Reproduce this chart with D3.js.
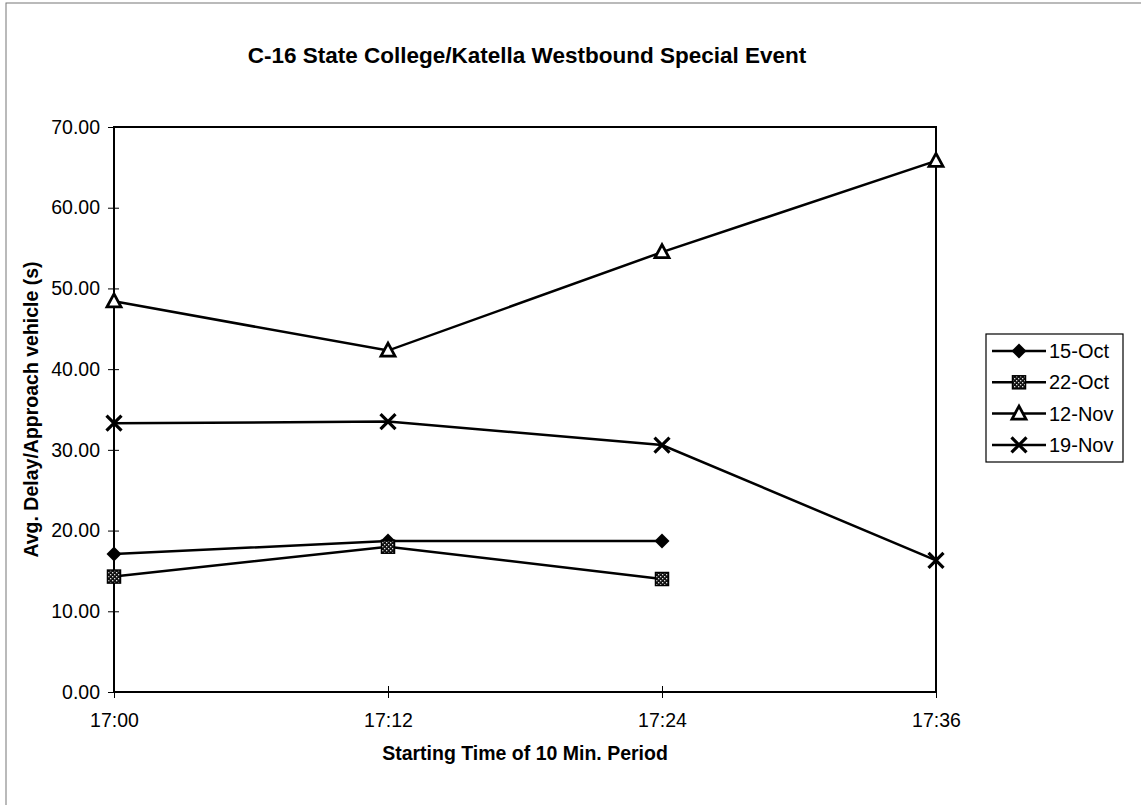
<!DOCTYPE html>
<html><head><meta charset="utf-8">
<script src="https://cdn.jsdelivr.net/npm/d3@7"></script>
<style>body{margin:0;background:#fff}svg{display:block}text{font-family:"Liberation Sans",Arial,sans-serif}</style>
</head><body><svg id="c" width="1141" height="805"></svg>
<script>
const times = ["17:00","17:12","17:24","17:36"];
const s15Oct = [17.1, 18.7, 18.7];
const s22Oct = [14.3, 18.0, 14.0];
const s12Nov = [48.4, 42.3, 54.5, 65.8];
const s19Nov = [33.3, 33.5, 30.6, 16.3];
const seriesNames = ["15-Oct","22-Oct","12-Nov","19-Nov"];
const yTicks = [0,10,20,30,40,50,60,70];
const titleText = "C-16 State College/Katella Westbound Special Event";
const xTitle = "Starting Time of 10 Min. Period";
const yTitle = "Avg. Delay/Approach vehicle (s)";

const series = [
  {name: seriesNames[0], values: s15Oct, marker: "diamond"},
  {name: seriesNames[1], values: s22Oct, marker: "square"},
  {name: seriesNames[2], values: s12Nov, marker: "triangle"},
  {name: seriesNames[3], values: s19Nov, marker: "x"}
];

const svg = d3.select("#c");
const L = 114, R = 936, T = 127, B = 692;
const x = d3.scalePoint().domain(times).range([L, R]);
const y = d3.scaleLinear().domain([0, 70]).range([B, T]);

const defs = svg.append("defs");
const pat = defs.append("pattern").attr("id","chk").attr("width",4).attr("height",4).attr("patternUnits","userSpaceOnUse");
pat.append("rect").attr("width",4).attr("height",4).attr("fill","#111");
pat.append("rect").attr("x",0).attr("y",0).attr("width",1.3).attr("height",1.3).attr("fill","#ddd");
pat.append("rect").attr("x",2).attr("y",2).attr("width",1.3).attr("height",1.3).attr("fill","#ddd");

// outer frame
svg.append("rect").attr("x",6).attr("y",3).attr("width",1200).attr("height",900)
  .attr("fill","none").attr("stroke","#777").attr("stroke-width",1);

// title
svg.append("text").attr("x", 527).attr("y", 63).attr("text-anchor","middle")
  .attr("font-size", 22.5).attr("font-weight","bold").text(titleText);

// plot frame
svg.append("rect").attr("x",L).attr("y",T).attr("width",R-L).attr("height",B-T)
  .attr("fill","none").attr("stroke","#000").attr("stroke-width",2);

// y axis
const yAxis = d3.axisLeft(y).tickValues(yTicks).tickFormat(d3.format(".2f")).tickSize(6).tickPadding(8);
const gy = svg.append("g").attr("transform",`translate(${L},0)`).call(yAxis);
gy.select(".domain").remove();
gy.selectAll(".tick line").attr("x1",-6).attr("x2",5).attr("stroke","#000").attr("stroke-width",1);
gy.selectAll(".tick text").attr("font-size",19.5).attr("font-family","Liberation Sans, Arial, sans-serif").attr("fill","#000");

// x axis
const xAxis = d3.axisBottom(x).tickSize(6).tickPadding(15);
const gx = svg.append("g").attr("transform",`translate(0,${B})`).call(xAxis);
gx.select(".domain").remove();
gx.selectAll(".tick line").attr("y1",-6).attr("y2",6).attr("stroke","#000").attr("stroke-width",1);
gx.selectAll(".tick text").attr("font-size",19.5).attr("font-family","Liberation Sans, Arial, sans-serif").attr("fill","#000");

// axis titles
svg.append("text").attr("x", 525).attr("y", 760).attr("text-anchor","middle")
  .attr("font-size",19.5).attr("font-weight","bold").text(xTitle);
svg.append("text").attr("transform",`translate(38,${(T+B)/2}) rotate(-90)`).attr("text-anchor","middle")
  .attr("font-size",19.5).attr("font-weight","bold").text(yTitle);

function drawMarker(g, type, cx, cy) {
  if (type === "diamond") {
    g.append("path").attr("d", `M${cx},${cy-7.5}L${cx+7.5},${cy}L${cx},${cy+7.5}L${cx-7.5},${cy}Z`).attr("fill","#000");
  } else if (type === "square") {
    g.append("rect").attr("x",cx-6.5).attr("y",cy-6.5).attr("width",13).attr("height",13)
      .attr("fill","url(#chk)").attr("stroke","#000").attr("stroke-width",1.5);
  } else if (type === "triangle") {
    g.append("path").attr("d", `M${cx},${cy-7.5}L${cx+7},${cy+5.5}L${cx-7},${cy+5.5}Z`)
      .attr("fill","#fff").attr("stroke","#000").attr("stroke-width",2.8).attr("stroke-linejoin","miter");
  } else if (type === "x") {
    g.append("path").attr("d", `M${cx-7.5},${cy-7.5}L${cx+7.5},${cy+7.5}M${cx-7.5},${cy+7.5}L${cx+7.5},${cy-7.5}`)
      .attr("stroke","#000").attr("stroke-width",3.2);
  }
}

const line = d3.line().x((d,i)=>x(times[i])).y(d=>y(d));
series.forEach(s => {
  const g = svg.append("g");
  g.append("path").attr("d", line(s.values)).attr("fill","none").attr("stroke","#000").attr("stroke-width",2.5);
  s.values.forEach((v,i)=> drawMarker(g, s.marker, x(times[i]), y(v)));
});

// legend
const lg = svg.append("g");
lg.append("rect").attr("x",986).attr("y",334).attr("width",137).attr("height",128)
  .attr("fill","#fff").attr("stroke","#000").attr("stroke-width",1.2);
series.forEach((s,i)=>{
  const cy = 351 + i*31.3;
  lg.append("line").attr("x1",992).attr("x2",1046).attr("y1",cy).attr("y2",cy).attr("stroke","#000").attr("stroke-width",2.5);
  drawMarker(lg, s.marker, 1019, cy);
  lg.append("text").attr("x",1049).attr("y",cy+7).attr("font-size",20).text(s.name);
});
</script></body></html>
